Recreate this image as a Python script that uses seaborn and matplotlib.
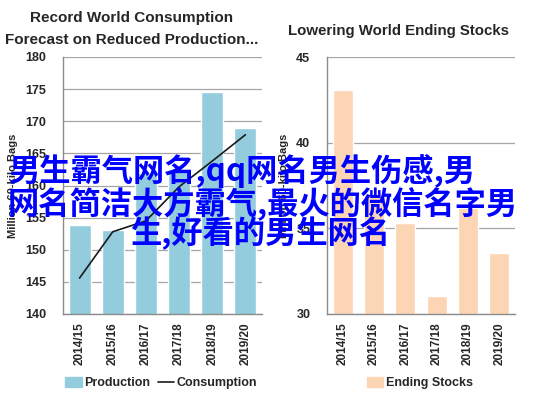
import numpy as np
import matplotlib
matplotlib.use("Agg")
import matplotlib.pyplot as plt
import seaborn as sns
from matplotlib.patches import Patch
from matplotlib.lines import Line2D

# Data
seasons = ["2014/15", "2015/16", "2016/17", "2017/18", "2018/19", "2019/20"]
production = [153.8, 153.0, 162.0, 162.5, 174.5, 169.0]
consumption = [145.6, 152.8, 154.5, 159.8, 163.8, 167.9]
ending_stocks = [43.05, 37.0, 35.3, 31.05, 36.2, 33.55]

left_title = ["Record World Consumption", "Forecast on Reduced Production..."]
right_title = "Lowering World Ending Stocks"
y_label = "Million 60-kilo Bags"
overlay = ["男生霸气网名,qq网名男生伤感,男",
           "网名简洁大方霸气,最火的微信名字男",
           "生,好看的男生网名"]

BLUE = "#93CDDD"
PEACH = "#FCD5B5"
GRID = "#A6A6A6"
AXIS = "#8C8C8C"
W, H = 537, 399

sns.set_style("white")
plt.rcParams["font.family"] = ["Liberation Sans", "DejaVu Sans"]

fig = plt.figure(figsize=(W / 100, H / 100), dpi=100)


def style_axis(ax, ymin, ymax, step):
    ax.set_ylim(ymin, ymax)
    ax.set_yticks(np.arange(ymin, ymax + 0.1, step))
    ax.set_xlim(-0.5, 5.5)
    ax.yaxis.grid(True, color=GRID, lw=0.9)
    ax.set_axisbelow(True)
    for s in ["top", "right"]:
        ax.spines[s].set_visible(False)
    for s in ["left", "bottom"]:
        ax.spines[s].set_color(AXIS)
        ax.spines[s].set_linewidth(1.0)
    ax.set_xticks(range(len(seasons)))
    ax.set_xticklabels(seasons, rotation=90, fontweight="bold", fontsize=8.5)
    ax.set_xticks(np.arange(-0.5, len(seasons), 1), minor=True)
    ax.tick_params(axis="x", which="major", length=0, pad=6)
    ax.tick_params(axis="x", which="minor", length=4, color=AXIS, width=1)
    ax.tick_params(axis="y", length=4, color=AXIS, width=1, pad=8, labelsize=9)
    for lab in ax.get_yticklabels():
        lab.set_fontweight("bold")
    ax.set_xlabel("")
    ax.set_ylabel(y_label, fontsize=8, fontweight="bold", labelpad=5)


# Left chart: production bars + consumption line
ax1 = fig.add_axes([63 / W, 1 - 314 / H, 199 / W, 257 / H])
sns.barplot(x=seasons, y=production, color=BLUE, saturation=1, width=0.66, ax=ax1)
ax1.plot(seasons, consumption, color="#1a1a1a", lw=1.2)
style_axis(ax1, 140, 180, 5)

handles = [Patch(color=BLUE), Line2D([0], [0], color="#1a1a1a", lw=1.2)]
ax1.legend(handles, ["Production", "Consumption"], loc="center",
           bbox_to_anchor=(161 / W, 1 - 383 / H), bbox_transform=fig.transFigure,
           ncol=2, frameon=False, handlelength=1.3, handleheight=0.9,
           columnspacing=0.6, handletextpad=0.2,
           prop={"weight": "bold", "size": 9})

# Right chart: ending stocks
ax2 = fig.add_axes([327 / W, 1 - 314 / H, 188 / W, 257 / H])
sns.barplot(x=seasons, y=ending_stocks, color=PEACH, saturation=1, width=0.64, ax=ax2)
style_axis(ax2, 30, 45, 5)
ax2.legend([Patch(color=PEACH)], ["Ending Stocks"], loc="center",
           bbox_to_anchor=(420 / W, 1 - 383 / H), bbox_transform=fig.transFigure,
           frameon=False, handlelength=1.3, handleheight=0.9, handletextpad=0.2,
           prop={"weight": "bold", "size": 9})

# Titles
fig.text(132 / W, 1 - 18 / H, left_title[0], ha="center", va="center",
         fontsize=11, fontweight="bold")
fig.text(132 / W, 1 - 40 / H, left_title[1], ha="center", va="center",
         fontsize=11, fontweight="bold")
fig.text(398 / W, 1 - 31 / H, right_title, ha="center", va="center",
         fontsize=10.8, fontweight="bold")

# Overlaid caption text
cjk = ["Noto Sans CJK SC", "DejaVu Sans"]
for txt, x, y in zip(overlay, [8, 8, 130], [171, 203, 233]):
    fig.text(x / W, 1 - y / H, txt, ha="left", va="center", fontsize=22.5,
             fontweight="bold", color="#0000FF", family=cjk)

fig.savefig("out.png", dpi=100)
